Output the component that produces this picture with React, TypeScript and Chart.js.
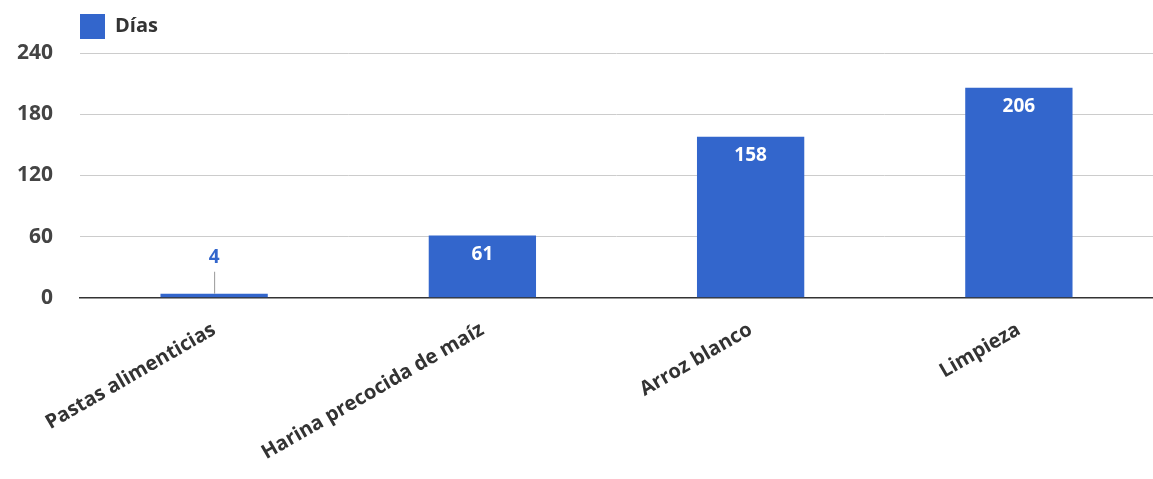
import React, { useEffect, useRef } from "react";
import { Chart, registerables } from "chart.js";

Chart.register(...registerables);

const categories = ["Pastas alimenticias", "Harina precocida de maíz", "Arroz blanco", "Limpieza"];
const seriesLabel = "Días";
const dias = [4, 61, 158, 206];
const yTicks = [0, 60, 120, 180, 240];

const BLUE = "#3366cc";
const FONT = "'Open Sans', 'Noto Sans', sans-serif";

const valueLabels = {
  id: "valueLabels",
  afterDatasetsDraw(chart: any) {
    const ctx = chart.ctx;
    const meta = chart.getDatasetMeta(0);
    ctx.save();
    ctx.font = `bold 19px ${FONT}`;
    ctx.textAlign = "center";
    ctx.textBaseline = "middle";
    meta.data.forEach((bar: any, i: number) => {
      const v = chart.data.datasets[0].data[i];
      const h = bar.base - bar.y;
      if (h > 30) {
        ctx.fillStyle = "#ffffff";
        ctx.fillText(String(v), bar.x, bar.y + 19);
      } else {
        ctx.strokeStyle = "#999999";
        ctx.lineWidth = 1;
        ctx.beginPath();
        ctx.moveTo(bar.x + 0.5, bar.y);
        ctx.lineTo(bar.x + 0.5, bar.y - 22);
        ctx.stroke();
        ctx.fillStyle = BLUE;
        ctx.fillText(String(v), bar.x, bar.y - 36);
      }
    });
    ctx.restore();
  },
};

const legendSpacer = {
  id: "legendSpacer",
  beforeInit(chart: any) {
    const legend = chart.legend;
    if (!legend) return;
    const fit = legend.fit;
    legend.fit = function () {
      fit.call(this);
      this.height += 4;
    };
  },
};

export default function App() {
  const ref = useRef<HTMLCanvasElement>(null);
  useEffect(() => {
    document.body.style.margin = "0";
    const chart = new Chart(ref.current!, {
      type: "bar",
      data: {
        labels: categories,
        datasets: [
          {
            label: seriesLabel,
            data: dias,
            backgroundColor: BLUE,
            borderWidth: 0,
            barPercentage: 0.4,
            categoryPercentage: 1,
          },
        ],
      },
      options: {
        animation: false,
        responsive: false,
        maintainAspectRatio: false,
        layout: { padding: { left: 10, right: 0, top: 14, bottom: 2 } },
        plugins: {
          tooltip: { enabled: false },
          legend: {
            position: "top",
            align: "start",
            fullSize: false,
            labels: {
              boxWidth: 25,
              boxHeight: 25,
              padding: 0,
              color: "#333333",
              font: { family: FONT, size: 20, weight: "bold" },
            },
          },
        },
        scales: {
          x: {
            grid: { display: false },
            border: { display: true, color: "#333333", width: 1.5 },
            ticks: {
              minRotation: 30,
              maxRotation: 30,
              autoSkip: false,
              color: "#333333",
              padding: 12,
              font: { family: FONT, size: 20, weight: "bold" },
            },
          },
          y: {
            min: 0,
            max: 240,
            afterBuildTicks: (axis: any) => {
              axis.ticks = yTicks.map((v) => ({ value: v }));
            },
            afterFit: (axis: any) => {
              axis.width = 70;
            },
            grid: { color: "#cccccc", drawTicks: false },
            border: { display: false },
            ticks: {
              color: "#444444",
              padding: 27,
              font: { family: FONT, size: 21, weight: "bold" },
            },
          },
        },
      },
      plugins: [valueLabels, legendSpacer],
    });
    return () => chart.destroy();
  }, []);
  return (
    <div style={{ position: "absolute", left: 0, top: 0, width: 1153, height: 479, background: "#fff" }}>
      <canvas ref={ref} width={1153} height={479} style={{ width: 1153, height: 479 }} />
    </div>
  );
}
